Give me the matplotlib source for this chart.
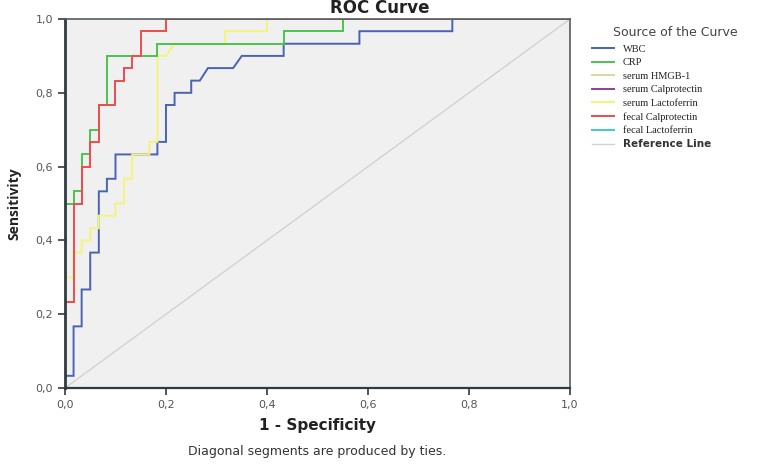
import numpy as np
import matplotlib.pyplot as plt

# ROC points (1 - specificity, sensitivity)
wbc_x = [0, 0, 0.017, 0.017, 0.033, 0.033, 0.05, 0.05, 0.067, 0.067, 0.083, 0.083, 0.1, 0.1,
         0.183, 0.183, 0.2, 0.2, 0.217, 0.217, 0.25, 0.25, 0.267, 0.283, 0.333, 0.35,
         0.433, 0.433, 0.583, 0.583, 0.767, 0.767, 1]
wbc_y = [0, 0.033, 0.033, 0.167, 0.167, 0.267, 0.267, 0.367, 0.367, 0.533, 0.533, 0.567, 0.567, 0.633,
         0.633, 0.667, 0.667, 0.767, 0.767, 0.8, 0.8, 0.833, 0.833, 0.867, 0.867, 0.9,
         0.9, 0.933, 0.933, 0.967, 0.967, 1, 1]

crp_x = [0, 0, 0.017, 0.017, 0.033, 0.033, 0.05, 0.05, 0.067, 0.067, 0.083, 0.083,
         0.183, 0.183, 0.433, 0.433, 0.55, 0.55, 1]
crp_y = [0, 0.5, 0.5, 0.533, 0.533, 0.633, 0.633, 0.7, 0.7, 0.767, 0.767, 0.9,
         0.9, 0.933, 0.933, 0.967, 0.967, 1, 1]

slf_x = [0, 0, 0.017, 0.017, 0.033, 0.033, 0.05, 0.05, 0.067, 0.067, 0.1, 0.1, 0.117, 0.117,
         0.133, 0.133, 0.167, 0.167, 0.183, 0.183, 0.2, 0.217, 0.317, 0.317, 0.4, 0.4, 1]
slf_y = [0, 0.3, 0.3, 0.367, 0.367, 0.4, 0.4, 0.433, 0.433, 0.467, 0.467, 0.5, 0.5, 0.567,
         0.567, 0.633, 0.633, 0.667, 0.667, 0.9, 0.9, 0.933, 0.933, 0.967, 0.967, 1, 1]

fcal_x = [0, 0, 0.017, 0.017, 0.033, 0.033, 0.05, 0.05, 0.067, 0.067, 0.1, 0.1, 0.117, 0.117,
          0.133, 0.133, 0.15, 0.15, 0.2, 0.2, 1]
fcal_y = [0, 0.233, 0.233, 0.5, 0.5, 0.6, 0.6, 0.667, 0.667, 0.767, 0.767, 0.833, 0.833, 0.867,
          0.867, 0.9, 0.9, 0.967, 0.967, 1, 1]

labels = ['WBC', 'CRP', 'serum HMGB-1', 'serum Calprotectin', 'serum Lactoferrin',
          'fecal Calprotectin', 'fecal Lactoferrin', 'Reference Line']
colors = ['#4a62b4', '#4cc24f', '#ddd5a3', '#8e3d9e', '#f4f47c', '#ee4c4c', '#3fcaca', '#d2d2d2']
series_x = [wbc_x, crp_x, [], [], slf_x, fcal_x, [], [0, 1]]
series_y = [wbc_y, crp_y, [], [], slf_y, fcal_y, [], [0, 1]]
ticks = [0, 0.2, 0.4, 0.6, 0.8, 1.0]
tick_labels = ['0,0', '0,2', '0,4', '0,6', '0,8', '1,0']

fig = plt.figure(figsize=(7.61, 4.65), dpi=100)
ax = fig.add_axes([0.0854, 0.1656, 0.6636, 0.7935])
ax.set_facecolor('#f0f0f0')

# reference line first so curves sit on top
order = [7, 0, 4, 1, 5, 2, 3, 6]
handles = {}
for i in order:
    lw = 1.0 if i == 7 else 1.4
    h, = ax.plot(series_x[i], series_y[i], color=colors[i], lw=lw, label=labels[i],
                 solid_joinstyle='miter')
    handles[i] = h

ax.set_xlim(0, 1)
ax.set_ylim(0, 1)
ax.set_xticks(ticks)
ax.set_yticks(ticks)
ax.set_xticklabels(tick_labels)
ax.set_yticklabels(tick_labels)
ax.tick_params(direction='out', length=5, width=1.2, color='#333a3e',
               labelsize=8, labelcolor='#555555')

for s in ax.spines.values():
    s.set_color('#555d60')
    s.set_linewidth(1.2)
ax.spines['left'].set_color('#2f3b40')
ax.spines['left'].set_linewidth(2)
ax.spines['bottom'].set_color('#2f3b40')
ax.spines['bottom'].set_linewidth(1.6)

# title sits right of the axes centre in the original
fig.text(380 / 761, 1 - 8 / 465, 'ROC Curve', ha='center', va='center',
         fontsize=12, fontweight='bold', color='#222222')
ax.set_xlabel('1 - Specificity', fontsize=11, fontweight='bold', color='#222222', labelpad=6)
ax.set_ylabel('Sensitivity', fontsize=10, fontweight='bold', color='#222222', labelpad=10,
              family='Open Sans')

fig.text(317 / 761, 1 - 451 / 465, 'Diagonal segments are produced by ties.', ha='center',
         va='center', fontsize=9, color='#333333')

# legend title drawn separately so it can sit offset to the right
fig.text(613 / 761, 1 - 32 / 465, 'Source of the Curve', ha='left', va='center',
         fontsize=9, color='#444444')
leg = fig.legend([handles[i] for i in range(8)], labels, loc='upper left',
                 bbox_to_anchor=(0.765, 0.924), frameon=False,
                 fontsize=7.5, handlelength=2.2,
                 handletextpad=0.8, labelspacing=0.4)
for t in leg.get_texts()[:7]:
    t.set_family('Liberation Serif')
    t.set_color('#222222')
leg.get_texts()[7].set_fontweight('bold')
leg.get_texts()[7].set_color('#333333')

fig.savefig('out.png', dpi=100)
